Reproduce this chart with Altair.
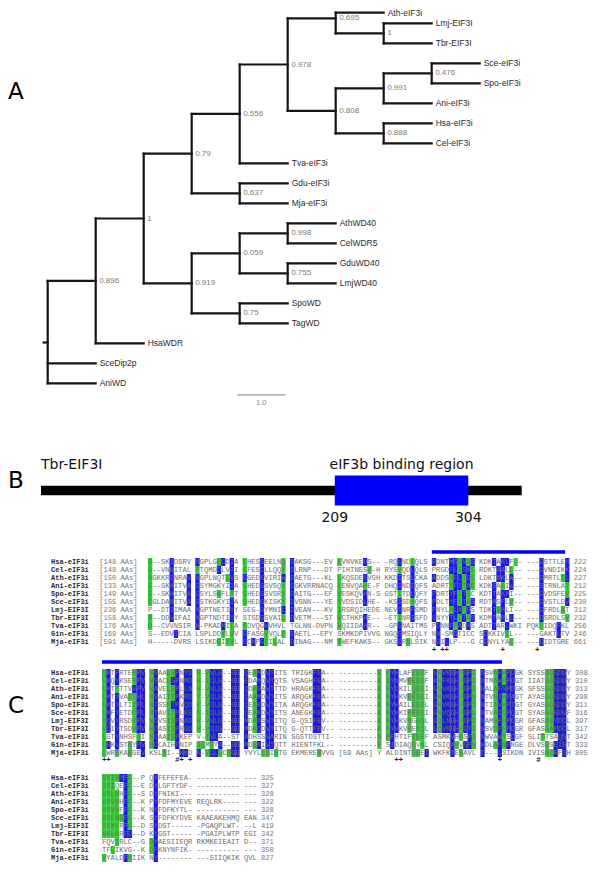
import altair as alt
import pandas as pd

W = 584
BLUE = "#1818E8"
GREEN = "#33CC33"

# ---------------- Panel A : tree ----------------
node_id = ["root","n896","SceDip2p","AniWD","n1","HsaWDR","n79","n919","n556","n637",
           "n978","Tva","Gdu","Mja","n695","n808","Ath","nLT","Lmj","Tbr",
           "n991","n888","n476","Ani","Sce","Spo","Hsa","Cel","n059","n75",
           "n998","n755","AthWD40","CelWDR5","GduWD40","LmjWD40","SpoWD","TagWD"]
node_parent = ["","root","root","root","n896","n896","n1","n1","n79","n79",
               "n556","n556","n637","n637","n978","n978","n695","n695","nLT","nLT",
               "n808","n808","n991","n991","n476","n476","n888","n888","n919","n919",
               "n059","n059","n998","n998","n755","n755","n75","n75"]
node_depth = [0,1,1,1,2,2,3,3,4,4,
              5,5,5,5,6,6,7,7,8,8,
              7,7,8,8,9,9,8,8,4,4,
              5,5,6,6,6,6,5,5]
node_row = [16.96,13.88,18,19,10.76,17,7.52,14,5.53,9.5,
            3.06,8,9,10,0.75,5.375,0.47,1.5,1,2,
            4.25,6.5,3.5,5,3,4,6,7,12.5,15.5,
            11.5,13.5,11,12,13,14,15,16]
node_label = ["","","SceDip2p","AniWD","","HsaWDR","","","","",
              "","Tva-eIF3i","Gdu-eIF3i","Mja-eIF3i","","","Ath-eIF3i","","Lmj-EIF3I","Tbr-EIF3I",
              "","","","Ani-eIF3i","Sce-eIF3i","Spo-eIF3i","Hsa-eIF3i","Cel-eIF3i","","",
              "","","AthWD40","CelWDR5","GduWD40","LmjWD40","SpoWD","TagWD"]
node_support = ["","0.896","","","1","","0.79","0.919","0.556","0.637",
                "0.978","","","","0.695","0.808","","1","","",
                "0.991","0.888","0.476","","","","","","0.059","0.75",
                "0.998","0.755","","","","","",""]
root_stub = 0.083
scale_bar = [3.95, 4.95]
scale_bar_row = 19.58
scale_label_row = 19.98

pos = {i: (d, r) for i, d, r in zip(node_id, node_depth, node_row)}
segs = []
children = {}
for i, p in zip(node_id, node_parent):
    if p:
        children.setdefault(p, []).append(i)
        segs.append(dict(x=pos[p][0], x2=pos[i][0], y=pos[i][1], y2=pos[i][1]))
for p, ch in children.items():
    rows = [pos[c][1] for c in ch]
    segs.append(dict(x=pos[p][0], x2=pos[p][0], y=min(rows), y2=max(rows)))
segs.append(dict(x=-root_stub, x2=0, y=pos["root"][1], y2=pos["root"][1]))
segs_df = pd.DataFrame(segs)
nodes_df = pd.DataFrame(dict(id=node_id, depth=node_depth, row=node_row,
                             label=node_label, support=node_support))
leaves_df = nodes_df[nodes_df.label != ""]
sup_df = nodes_df[nodes_df.support != ""]

xA = alt.Scale(domain=[-0.827, 11.34], nice=False, zero=False)
yA = alt.Scale(domain=[0.235, 20.485], reverse=True, nice=False, zero=False)

branches = alt.Chart(segs_df).mark_rule(color="#151515", strokeWidth=2.2, strokeCap="square").encode(
    x=alt.X("x:Q", scale=xA, axis=None), x2="x2:Q",
    y=alt.Y("y:Q", scale=yA, axis=None), y2="y2:Q")
leaf_txt = alt.Chart(leaves_df).mark_text(align="left", baseline="middle", dx=4,
                                          font="Liberation Sans", fontSize=8.5, color="#2a2a2a").encode(
    x=alt.X("depth:Q", scale=xA, axis=None), y=alt.Y("row:Q", scale=yA, axis=None), text="label:N")
sup_txt = alt.Chart(sup_df).mark_text(align="left", baseline="middle", dx=3.5,
                                      font="Liberation Sans", fontSize=8, color="#7a7a7a").encode(
    x=alt.X("depth:Q", scale=xA, axis=None), y=alt.Y("row:Q", scale=yA, axis=None), text="support:N")
sb_df = pd.DataFrame(dict(x=[scale_bar[0]], x2=[scale_bar[1]], y=[scale_bar_row],
                          xm=[(scale_bar[0] + scale_bar[1]) / 2], yl=[scale_label_row], t=["1.0"]))
sbar = alt.Chart(sb_df).mark_rule(color="#9a9a9a", strokeWidth=1.3).encode(
    x=alt.X("x:Q", scale=xA, axis=None), x2="x2:Q", y=alt.Y("y:Q", scale=yA, axis=None))
sbar_txt = alt.Chart(sb_df).mark_text(font="Liberation Sans", fontSize=7.5, color="#8a8a8a",
                                      baseline="middle").encode(
    x=alt.X("xm:Q", scale=xA, axis=None), y=alt.Y("yl:Q", scale=yA, axis=None), text="t:N")
letterA = alt.Chart(pd.DataFrame({"t": ["A"]})).mark_text(
    align="left", baseline="middle", font="DejaVu Sans", fontSize=23, color="#000").encode(
    x=alt.value(0), y=alt.value(84), text="t:N")
panelA = alt.layer(branches, leaf_txt, sup_txt, sbar, sbar_txt, letterA).properties(width=W, height=405)

# ---------------- Panel B : domain ----------------
prot_name = "Tbr-EIF3I"
prot_len = 342
region_name = "eIF3b binding region"
region_start, region_end = 209, 304

xB = alt.Scale(domain=[-23.48, 392.0], nice=False, zero=False)
bdf = pd.DataFrame(dict(s=[0], e=[prot_len], rs=[region_start], re=[region_end],
                        rm=[(region_start + region_end) / 2], name=[prot_name], rname=[region_name],
                        l1=[str(region_start)], l2=[str(region_end)]))
bar_line = alt.Chart(bdf).mark_rule(color="#000", strokeWidth=9.3).encode(
    x=alt.X("s:Q", scale=xB, axis=None), x2="e:Q", y=alt.value(77.5))
region_box = alt.Chart(bdf).mark_rect(color="#0000FF").encode(
    x=alt.X("rs:Q", scale=xB, axis=None), x2="re:Q", y=alt.value(62.6), y2=alt.value(92.4))
name_txt = alt.Chart(bdf).mark_text(align="left", baseline="middle", font="DejaVu Sans",
                                    fontSize=14, color="#111").encode(
    x=alt.X("s:Q", scale=xB, axis=None), y=alt.value(52), text="name:N")
rname_txt = alt.Chart(bdf).mark_text(align="center", baseline="middle", font="DejaVu Sans",
                                     fontSize=14, color="#111").encode(
    x=alt.X("rm:Q", scale=xB, axis=None), y=alt.value(52), text="rname:N")
l1_txt = alt.Chart(bdf).mark_text(align="center", baseline="middle", font="DejaVu Sans",
                                  fontSize=14, color="#111").encode(
    x=alt.X("rs:Q", scale=xB, axis=None), y=alt.value(105), text="l1:N")
l2_txt = alt.Chart(bdf).mark_text(align="center", baseline="middle", font="DejaVu Sans",
                                  fontSize=14, color="#111").encode(
    x=alt.X("re:Q", scale=xB, axis=None), y=alt.value(105), text="l2:N")
letterB = alt.Chart(pd.DataFrame({"t": ["B"]})).mark_text(
    align="left", baseline="middle", font="DejaVu Sans", fontSize=23, color="#000").encode(
    x=alt.value(0), y=alt.value(67.5), text="t:N")
panelB = alt.layer(bar_line, region_box, name_txt, rname_txt, l1_txt, l2_txt, letterB).properties(
    width=W, height=132)

# ---------------- Panel C : alignment ----------------
aln_names = ["Hsa-eIF3i","Cel-eIF3i","Ath-eIF3i","Ani-eIF3i","Spo-eIF3i","Sce-eIF3i",
             "Lmj-EIF3I","Tbr-EIF3I","Tva-eIF3i","Gin-eIF3i","Mja-eIF3i"]
aln_before = [148,148,150,133,149,155,236,158,176,169,591]

block1_seq = [
 "D--SKIDSRV NGPLGHCDIA EHESSEELNQ SAKSG---EV LVNVKEHS-- -RQLNDIQLS RDNTMSVNAS KDKTAKLF-- ---DSTTLEH",
 "D--VNNITAL FTQMDDLVTI GFESCLLQQY DLRNP---DT PIHTNESV-H RYSVQDLQLS PRGDFLISNS RDKTAALL-- ---DVNDIKK",
 "DGKKRINRAV NGPLNQTIVS GGEDKVIRIW DAETG---KL LKQSDEEVGH KKDITSLCKA ADDSHFLTGS LDKTAKLW-- ---DMRTLTL",
 "E--SKAITVA GSYMGKYIIA GHEDGSVSQY DGKVRRNACQ LENVQAHE-F DHQINDIQFS ADRTYFITAS KDKSAKIW-- ---STRNLAI",
 "E--SKAITVA GSYLSKFLFT GHEDGSVSRY DAITG---EF VESKQVHN-S GSTITDLQFY PDRTYFITSC KDTTAKAI-- ---DVDSFEV",
 "EGLDAAITVA GSTKGKYIIA GHEDGKISKY DVSNN---YE YVDSIDLHE- -KSISDMQFS PDLTYFITAS RDTMSFLV-- ---DVSTLDV",
 "P--DTIIMAA NGPTNETIYY SEG-DYMNIL DVEAN---KV IRSRQIHEDE NEVINRFSMD PNYLALAFRS TDKTSHLI-- ---DFRDLAT",
 "N--DDVIFAI NGPTNDTIYY STSDGSVAIL DVETM---ST WCTHKPHE-- -ETINRISFD SNYYTLITAS KDMTARLL-- ---DSRDLSV",
 "D--CVVNSIR N-PKADMITA GDVQGKVHVL TGLNN-DVPN VQIIDAHR-- -GPSNAITMS PDNNFPADAS ADTTARLWKI PQKEIDQFKL",
 "S--EDVICIA LSPLDDYLVV GFASGVVQLF EAETL--EPY SKMKDPIVVG NGQSMSIQLY NN-SMSTICC SDKKIVIL-- ---GAKTLTV",
 "H-----DVRS LSIKDGIVVL GCNPGYILAL DINAG---NM IWEFKAKS-- GKSIRNLSIK NGILLP---G CDNYLYAL-- ---DIDTGRE",
]
block1_mask = [
 "G....B.... B....GB.B. G...B....G B......... G.....B... ...B..G... B...BBGBGB ...B.BB.G. ...B.....B",
 "G....B.... G....B..B. G...B....G B......... .......G.. ...G..B... ....BBGBBG ....BB.G.. ...B.....B",
 "G....B...B B......GB. B...B....B B......... G.....B... ...B..B... B...GBBGBG ....BB.B.. ...B....GB",
 "G....B...B B.......B. G...B....G B......... G.....G... ...B..B... ....GBBGBG ...B.G.B.. ...B.....G",
 "G....B...B B....G..G. G...B....G B......... G.....B... ...G..B... B...BBGBG. ...B.BB... ...B.....G",
 "G....B...B B.......B. G...B....G B......... G.....B... ...B..G... B...BBGBGB ...B.B.G.. ...B.....B",
 ".....B.... B.......B. ....B....B B......... G......... ...B..B... B...GBBGB. ...BGB.... ...B....G.",
 "G....B.... B.......B. ....B....G B......... G.....B... ...G..B... B...BBGBGB ...B.B.B.. ...B.....G",
 "G......... B.....B.G. G....B.... .......... G.....B... ...B...... .B..BGB.B. ...B..B... ...G...B..",
 "......B... ......G.G. B....G...G B......... .......... ...B...... .B...B.... .B....G... .......B..",
 ".......... .....G.GG. B.B.BG.G.. B......... G......... ...B.G.... .B.B...... .B.....G.. ...B......",
]
block1_end = [222,224,227,212,225,230,312,232,256,246,661]

block2_seq = [
 "QKTPRTERPV NSAALSPNYD H-VVLG--GG QEAMDVTITS TRIGKFEA-- ---------K FYHLAFEEEF GRVKGHFGPI NSVAFHPDGK SYSSGGEDGY",
 "LKQYKSERPV NSACLSPNMD H-ICLG--GG EDAMQVTQTS VSAGHFEA-- ---------K IYNMVFEEEF ANFKGHFGPI NTMAWHPDGT IIATGGEDGY",
 "LKTYTTVVPV NAVELSPLLN H-VVLG--GG QDASAVTTTD HRAGKFEA-- ---------K FYDKILQEEI GGVKGHFGPI NALAFNPDGK SFSSGGEDGY",
 "LKTYVAITHL NSAIITPKRD Y-VILG--GG QAAMDVTITS ARQGKFEA-- ---------K FYHKVFEDEI GRVKGHFGPV NTVHIHPAGT AYASGGEDGY",
 "LKTYLTITPL NTSSFTPVQD F-VILG--GG QEAKDVTITA ARQGKFEA-- ---------K FYHAILEEDL GRVKGHFGPI NTIAVHPTGT GYASGGEDGY",
 "LKFYETDCPL NTAVITPLKE F-IILG--GG QEAKDVTITS ANEGKFEA-- ---------K FYHKIFEEEI GRVQGHFGPL NTVAISPQGT SYASGGEDGF",
 "IQVYRSDVPV NDVSISPNAD H-VVLG--GG MDAASVTITQ G-QSIFEV-- ---------K FYHKVHGHQL GQLNGHFGPI NAMSFHPDGR GFASASYDCL",
 "VQIYTSDVPV NDASISPRGD H-VIIG--GG MDAQDVTITQ G-QTTFEV-- ---------K FYHKVHEKQL GQVRGHFGTI NSVCFFPDGR GFASGAPDCL",
 "LGTYNHSFQI SCAAISPKEP V-IVLA--ST ADHSSVARIN SGSTDSTTI- ---------N PFHTIFTEEF ASMKVHKSPI NWVAWTSDGF SLITTSAQST",
 "LRKVSTEYPV HCCAIHPNIP NLMVYA--GG MDSKIVTQTT HIENTFKL-- ---------F SIDIAQDVKL CSIQAHVGPV HDLAFNPNGE DLVSGSEIST",
 "LWREKAEGEV KSLSI--KKD N-VLLGCRGG YVYLLDINTG EKMERENVVG [59_AAs]_Y ALDINTGEEI WKFKTESAVL D---LSIKDN IVISGCRFGH",
]
block2_mask = [
 "GB.B...GBB GB..GGB.BB G.GBBB..BB B.GB.BB... .....BB... .........G GBB...GGG. BGBBBBGBBG B..GBGBB.. ....GGBBB.",
 "GB.B...GBB GB..GBB.BB G.GBBB..BB B..B.BB... .....BB... .........G GBB..GGGG. BGBBBBGBBG B..GBGBB.. ....GGBBB.",
 "GB.G...BBB GB..GGB.BB G.GBBB..BB B.GB.BB... .....BB... .........G GBB...GGG. BGBBBBGBBG B..GBBBB.. ....GGBBB.",
 "GB.B..GGBB GB..GGB.BB G.GBBB..BB B.GB.BB... .....BB... .........G GBB..GGGG. BGBBBBGBBG B..GBGBB.. ....GGBBB.",
 "GB.B...GBB GB..GBB.BB G.GBBB..BB B.GB.BB... .....BB... .........G GBB...GGG. BGBBBBGBBG B..GBGBB.. ....GGBBB.",
 "GB.B...GBB GB..GGB.BB G.GBBB..BB B.GB.BB... .....BB... .........G GBB..GGGG. BGBBBBGBBG B..GBGBB.. ....GGBBB.",
 "GB.B...GBB GB..GGB.BB G.GBBB..BB B.GB.BB... .....BB... .........G GBB..G.GG. BGBBBBGBBG B..GBGBB.. ....GGBBB.",
 "GB.B...GBB GB..GGB.BB G.GBBB..BB B.GB.BB... .....BB... .........G GBB..G.GG. BGBBBBGBBG B..GBGBB.. ....GGBBB.",
 "G..B....G. GB..GGB... ..GBB..... B....BB... .......... .........G GB....GGG. ....B.G.BG B...BG.B.. ...G...BB.",
 "GB.B..G.BB GB....B... GG.G.B..BB B.GB.BB... .......... .........G .B....G.G. ....BG.BBG B..GBGB... ....G.BBB.",
 "G..G..G..B ...G...BB. B.GBBG.GBB ....GG.G.. ......G... .......... ......GG.B ....B.G... B...B..... ....GGB.B.",
]
block2_end = [308,310,313,298,311,316,397,317,342,333,805]

block3_seq = [
 "VRIHYFD--P QYFEFEFEA- ---------- ---",
 "IRIQEFD--E DYLGFTYDF- ---------- ---",
 "VRLHHFD--S DYFNIKI--- ---------- ---",
 "VRVHHFD--K PYFDFMYEVE REQLRK---- ---",
 "VRVHFFD--K NYFDFKYTL- ---------- ---",
 "IRLNRFE--K SYFDFKYDVE KAAEAKEHMQ EAN",
 "IKMYRFG--D SYDST----- -PGAQPLWT- --L",
 "VKLHRFD--D KYGST----- -PGAIPLWTP EGI",
 "FQVIRLC--G DYAESIIEQR RKMKEIEAIT D--",
 "TFLIKVG--K DFKNYNFIK- ---------- ---",
 "VYALDFNIIK NY-------- ---SIIQKIK QVL",
]
block3_mask = [
 "GGGGBBG... .B........ .......... ...",
 "GGG..BG... .B........ .......... ...",
 "GGGG.BG... .B........ .......... ...",
 "GGGG.BG... .B........ .......... ...",
 "GGGG.BG... .B........ .......... ...",
 "GGGGGBG... .B........ .......... ...",
 "GGGG.BG... .B........ .......... ...",
 "GGGG.BB... .B........ .......... ...",
 "...G...... GB........ .......... ...",
 "..G....... GB........ .......... ...",
 "G....BG... .B........ .......... ...",
]
block3_end = [325,327,328,322,328,347,419,342,371,350,827]

block1_marks_idx = [66, 68, 69, 82, 90]
block1_marks_sym = ["+", "+", "+", "+", "+"]
block2_marks_idx = [0, 1, 17, 18, 20, 68, 69, 92, 101]
block2_marks_sym = ["+", "+", "#", "+", "+", "+", "+", "+", "#"]
bar_cols = [(60, 88), (0, 84)]   # binding-region bar, alignment columns (block 1, block 2)

# layout of blocks (slot offset, first line, group lengths)
blocks = [
    dict(seq=block1_seq, mask=block1_mask, end=block1_end, off=10.7, line=0.0, glen=[10]*9),
    dict(seq=block2_seq, mask=block2_mask, end=block2_end, off=0.0, line=13.875, glen=[10]*10),
    dict(seq=block3_seq, mask=block3_mask, end=block3_end, off=0.0, line=27.0, glen=[10, 10, 10, 3]),
]
mark_lines = [11.0, 24.75]
bar_lines = [-1.25, 12.5]
name_slot = -11.86
before_slot = -0.63

chars, cells, labels, ends = [], [], [], []
for bi, b in enumerate(blocks):
    for r, (s, m) in enumerate(zip(b["seq"], b["mask"])):
        sg = [g.replace("_", " ") for g in s.split(" ")]
        mg = m.split(" ")
        sg = [g.ljust(L, "-")[:L] for g, L in zip(sg, b["glen"])]
        mg = [g.ljust(L, ".")[:L] for g, L in zip(mg, b["glen"])]
        s2, m2 = " ".join(sg), " ".join(mg)
        ln = b["line"] + r
        for i, (ch, mk) in enumerate(zip(s2, m2)):
            if ch != " ":
                chars.append(dict(x=b["off"] + i + 0.5, y=ln, ch=ch))
            if mk in "BG":
                cells.append(dict(x=b["off"] + i, x2=b["off"] + i + 1, y=ln - 0.5, y2=ln + 0.5, c=mk))
        labels.append(dict(x=name_slot, y=ln, t=aln_names[r]))
        ends.append(dict(x=b["off"] + len(s2) + 1, y=ln, t=str(b["end"][r])))
        if bi == 0:
            ends.append(dict(x=before_slot, y=ln, t="[%d AAs]" % aln_before[r]))

marks = []
for bi, (idx, sym) in enumerate([(block1_marks_idx, block1_marks_sym), (block2_marks_idx, block2_marks_sym)]):
    for i, s in zip(idx, sym):
        marks.append(dict(x=blocks[bi]["off"] + i + 0.5, y=mark_lines[bi], t=s))

bars = []
for bi, (c0, c1) in enumerate(bar_cols):
    off = blocks[bi]["off"]
    bars.append(dict(x=off + c0 + c0 // 10, x2=off + c1 + c1 // 10 + 1, y=bar_lines[bi]))

xC = alt.Scale(domain=[-21.86, 113.95], nice=False, zero=False)
yC = alt.Scale(domain=[-2.125, 37.5], reverse=True, nice=False, zero=False)

cell_layer = alt.Chart(pd.DataFrame(cells)).mark_rect().encode(
    x=alt.X("x:Q", scale=xC, axis=None), x2="x2:Q",
    y=alt.Y("y:Q", scale=yC, axis=None), y2="y2:Q",
    color=alt.Color("c:N", scale=alt.Scale(domain=["B", "G"], range=[BLUE, GREEN]), legend=None))
char_layer = alt.Chart(pd.DataFrame(chars)).mark_text(
    font="Liberation Mono", fontSize=7.2, color="#6e6e6e", baseline="middle", align="center").encode(
    x=alt.X("x:Q", scale=xC, axis=None), y=alt.Y("y:Q", scale=yC, axis=None), text="ch:N")
name_layer = alt.Chart(pd.DataFrame(labels)).mark_text(
    font="Liberation Mono", fontSize=7, fontWeight="bold", color="#2a2a2a", baseline="middle", align="left").encode(
    x=alt.X("x:Q", scale=xC, axis=None), y=alt.Y("y:Q", scale=yC, axis=None), text="t:N")
end_layer = alt.Chart(pd.DataFrame(ends)).mark_text(
    font="Liberation Mono", fontSize=7.1, color="#777", baseline="middle", align="left").encode(
    x=alt.X("x:Q", scale=xC, axis=None), y=alt.Y("y:Q", scale=yC, axis=None), text="t:N")
mark_layer = alt.Chart(pd.DataFrame(marks)).mark_text(
    font="Liberation Mono", fontSize=7.5, fontWeight="bold", color="#222", baseline="middle", align="center").encode(
    x=alt.X("x:Q", scale=xC, axis=None), y=alt.Y("y:Q", scale=yC, axis=None), text="t:N")
bar_layer = alt.Chart(pd.DataFrame(bars)).mark_rule(color="#0000FF", strokeWidth=3.5).encode(
    x=alt.X("x:Q", scale=xC, axis=None), x2="x2:Q", y=alt.Y("y:Q", scale=yC, axis=None))
letterC = alt.Chart(pd.DataFrame({"t": ["C"]})).mark_text(
    align="left", baseline="middle", font="DejaVu Sans", fontSize=23, color="#000").encode(
    x=alt.value(0), y=alt.value(161), text="t:N")
panelC = alt.layer(cell_layer, char_layer, name_layer, end_layer, mark_layer, bar_layer, letterC).properties(
    width=W, height=317)

chart = alt.vconcat(panelA, panelB, panelC, spacing=0).properties(padding=0).configure_view(stroke=None)
chart.save("out.html", embed_options={"renderer": "svg", "actions": False})
